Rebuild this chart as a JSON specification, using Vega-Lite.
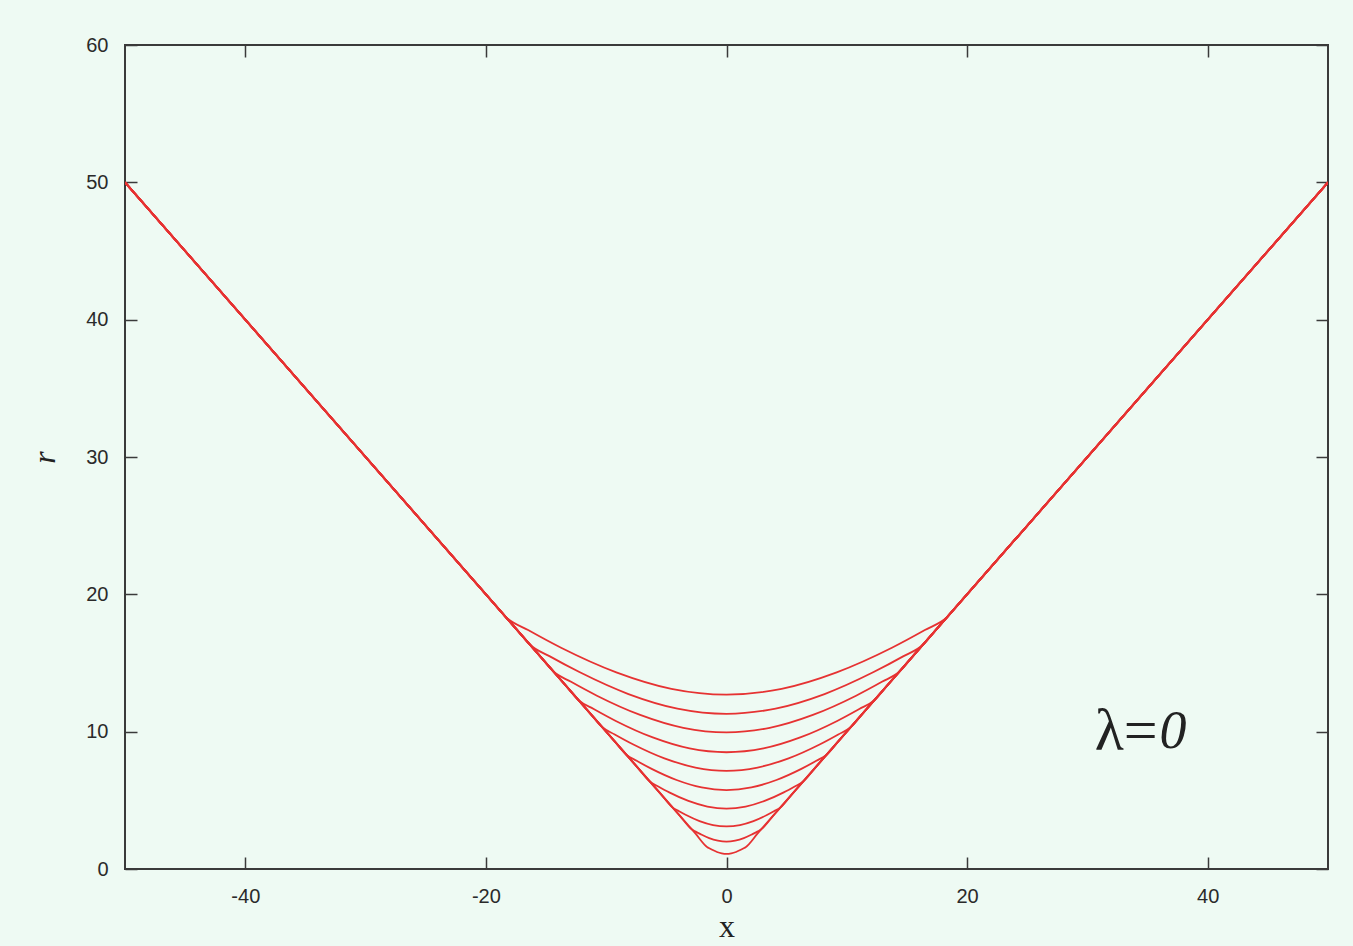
{
  "$schema": "https://vega.github.io/schema/vega-lite/v6.json",
  "width": 1203,
  "height": 824,
  "autosize": {"type": "none"},
  "padding": {"left": 125, "top": 45, "right": 25, "bottom": 77},
  "background": "#eefaf3",
  "config": {
    "view": {"stroke": "#3a3a3a", "strokeWidth": 2},
    "axis": {
      "domain": false,
      "grid": false,
      "tickSize": -12,
      "tickColor": "#3a3a3a",
      "tickWidth": 1.5,
      "labelFont": "Liberation Sans",
      "labelFontSize": 20,
      "labelColor": "#2a2a2a",
      "labelExpr": "toString(datum.value)",
      "titleFont": "Liberation Serif",
      "titleFontStyle": "italic",
      "titleFontWeight": "normal",
      "titleFontSize": 32,
      "titleColor": "#222222"
    }
  },
  "datasets": {
    "curves": [
      {"k": 1, "x": -50, "y": 50}, {"k": 1, "x": -19.33, "y": 19.33}, {"k": 1, "x": -18.33, "y": 18.33}, {"k": 1, "x": -16.49, "y": 17.4}, {"k": 1, "x": -13.75, "y": 16.11}, {"k": 1, "x": -9.16, "y": 14.32}, {"k": 1, "x": -4.58, "y": 13.12}, {"k": 1, "x": 0, "y": 12.7}, {"k": 1, "x": 4.58, "y": 13.12}, {"k": 1, "x": 9.16, "y": 14.32}, {"k": 1, "x": 13.75, "y": 16.11}, {"k": 1, "x": 16.49, "y": 17.4}, {"k": 1, "x": 18.33, "y": 18.33}, {"k": 1, "x": 19.33, "y": 19.33}, {"k": 1, "x": 50, "y": 50},
      {"k": 2, "x": -50, "y": 50}, {"k": 2, "x": -17.31, "y": 17.31}, {"k": 2, "x": -16.31, "y": 16.31}, {"k": 2, "x": -14.68, "y": 15.48}, {"k": 2, "x": -12.23, "y": 14.34}, {"k": 2, "x": -8.15, "y": 12.74}, {"k": 2, "x": -4.08, "y": 11.68}, {"k": 2, "x": 0, "y": 11.3}, {"k": 2, "x": 4.08, "y": 11.68}, {"k": 2, "x": 8.15, "y": 12.74}, {"k": 2, "x": 12.23, "y": 14.34}, {"k": 2, "x": 14.68, "y": 15.48}, {"k": 2, "x": 16.31, "y": 16.31}, {"k": 2, "x": 17.31, "y": 17.31}, {"k": 2, "x": 50, "y": 50},
      {"k": 3, "x": -50, "y": 50}, {"k": 3, "x": -15.36, "y": 15.36}, {"k": 3, "x": -14.36, "y": 14.36}, {"k": 3, "x": -12.92, "y": 13.63}, {"k": 3, "x": -10.77, "y": 12.62}, {"k": 3, "x": -7.18, "y": 11.22}, {"k": 3, "x": -3.59, "y": 10.28}, {"k": 3, "x": 0, "y": 9.95}, {"k": 3, "x": 3.59, "y": 10.28}, {"k": 3, "x": 7.18, "y": 11.22}, {"k": 3, "x": 10.77, "y": 12.62}, {"k": 3, "x": 12.92, "y": 13.63}, {"k": 3, "x": 14.36, "y": 14.36}, {"k": 3, "x": 15.36, "y": 15.36}, {"k": 3, "x": 50, "y": 50},
      {"k": 4, "x": -50, "y": 50}, {"k": 4, "x": -13.27, "y": 13.27}, {"k": 4, "x": -12.27, "y": 12.27}, {"k": 4, "x": -11.04, "y": 11.65}, {"k": 4, "x": -9.2, "y": 10.78}, {"k": 4, "x": -6.13, "y": 9.58}, {"k": 4, "x": -3.07, "y": 8.78}, {"k": 4, "x": 0, "y": 8.5}, {"k": 4, "x": 3.07, "y": 8.78}, {"k": 4, "x": 6.13, "y": 9.58}, {"k": 4, "x": 9.2, "y": 10.78}, {"k": 4, "x": 11.04, "y": 11.65}, {"k": 4, "x": 12.27, "y": 12.27}, {"k": 4, "x": 13.27, "y": 13.27}, {"k": 4, "x": 50, "y": 50},
      {"k": 5, "x": -50, "y": 50}, {"k": 5, "x": -11.32, "y": 11.32}, {"k": 5, "x": -10.32, "y": 10.32}, {"k": 5, "x": -9.29, "y": 9.8}, {"k": 5, "x": -7.74, "y": 9.07}, {"k": 5, "x": -5.16, "y": 8.06}, {"k": 5, "x": -2.58, "y": 7.39}, {"k": 5, "x": 0, "y": 7.15}, {"k": 5, "x": 2.58, "y": 7.39}, {"k": 5, "x": 5.16, "y": 8.06}, {"k": 5, "x": 7.74, "y": 9.07}, {"k": 5, "x": 9.29, "y": 9.8}, {"k": 5, "x": 10.32, "y": 10.32}, {"k": 5, "x": 11.32, "y": 11.32}, {"k": 5, "x": 50, "y": 50},
      {"k": 6, "x": -50, "y": 50}, {"k": 6, "x": -9.3, "y": 9.3}, {"k": 6, "x": -8.3, "y": 8.3}, {"k": 6, "x": -7.47, "y": 7.88}, {"k": 6, "x": -6.22, "y": 7.29}, {"k": 6, "x": -4.15, "y": 6.48}, {"k": 6, "x": -2.07, "y": 5.94}, {"k": 6, "x": 0, "y": 5.75}, {"k": 6, "x": 2.07, "y": 5.94}, {"k": 6, "x": 4.15, "y": 6.48}, {"k": 6, "x": 6.22, "y": 7.29}, {"k": 6, "x": 7.47, "y": 7.88}, {"k": 6, "x": 8.3, "y": 8.3}, {"k": 6, "x": 9.3, "y": 9.3}, {"k": 6, "x": 50, "y": 50},
      {"k": 7, "x": -50, "y": 50}, {"k": 7, "x": -7.35, "y": 7.35}, {"k": 7, "x": -6.35, "y": 6.35}, {"k": 7, "x": -5.71, "y": 6.03}, {"k": 7, "x": -4.76, "y": 5.58}, {"k": 7, "x": -3.17, "y": 4.96}, {"k": 7, "x": -1.59, "y": 4.55}, {"k": 7, "x": 0, "y": 4.4}, {"k": 7, "x": 1.59, "y": 4.55}, {"k": 7, "x": 3.17, "y": 4.96}, {"k": 7, "x": 4.76, "y": 5.58}, {"k": 7, "x": 5.71, "y": 6.03}, {"k": 7, "x": 6.35, "y": 6.35}, {"k": 7, "x": 7.35, "y": 7.35}, {"k": 7, "x": 50, "y": 50},
      {"k": 8, "x": -50, "y": 50}, {"k": 8, "x": -5.47, "y": 5.47}, {"k": 8, "x": -4.47, "y": 4.47}, {"k": 8, "x": -4.03, "y": 4.25}, {"k": 8, "x": -3.36, "y": 3.93}, {"k": 8, "x": -2.24, "y": 3.49}, {"k": 8, "x": -1.12, "y": 3.2}, {"k": 8, "x": 0, "y": 3.1}, {"k": 8, "x": 1.12, "y": 3.2}, {"k": 8, "x": 2.24, "y": 3.49}, {"k": 8, "x": 3.36, "y": 3.93}, {"k": 8, "x": 4.03, "y": 4.25}, {"k": 8, "x": 4.47, "y": 4.47}, {"k": 8, "x": 5.47, "y": 5.47}, {"k": 8, "x": 50, "y": 50},
      {"k": 9, "x": -50, "y": 50}, {"k": 9, "x": -3.89, "y": 3.89}, {"k": 9, "x": -2.89, "y": 2.89}, {"k": 9, "x": -2.6, "y": 2.74}, {"k": 9, "x": -2.16, "y": 2.54}, {"k": 9, "x": -1.44, "y": 2.25}, {"k": 9, "x": -0.72, "y": 2.07}, {"k": 9, "x": 0, "y": 2.0}, {"k": 9, "x": 0.72, "y": 2.07}, {"k": 9, "x": 1.44, "y": 2.25}, {"k": 9, "x": 2.16, "y": 2.54}, {"k": 9, "x": 2.6, "y": 2.74}, {"k": 9, "x": 2.89, "y": 2.89}, {"k": 9, "x": 3.89, "y": 3.89}, {"k": 9, "x": 50, "y": 50},
      {"k": 10, "x": -50, "y": 50}, {"k": 10, "x": -2.59, "y": 2.59}, {"k": 10, "x": -1.59, "y": 1.59}, {"k": 10, "x": -1.43, "y": 1.51}, {"k": 10, "x": -1.19, "y": 1.4}, {"k": 10, "x": -0.79, "y": 1.24}, {"k": 10, "x": -0.4, "y": 1.14}, {"k": 10, "x": 0, "y": 1.1}, {"k": 10, "x": 0.4, "y": 1.14}, {"k": 10, "x": 0.79, "y": 1.24}, {"k": 10, "x": 1.19, "y": 1.4}, {"k": 10, "x": 1.43, "y": 1.51}, {"k": 10, "x": 1.59, "y": 1.59}, {"k": 10, "x": 2.59, "y": 2.59}, {"k": 10, "x": 50, "y": 50}
    ],
    "notes": [
      {"x": 36.0, "y": 9.98, "label": "λ=", "part": "head"},
      {"x": 36.0, "y": 9.98, "label": "0", "part": "value"}
    ]
  },
  "layer": [
    {
      "data": {"name": "curves"},
      "mark": {"type": "line", "interpolate": "monotone", "color": "#e63232", "strokeWidth": 1.8, "clip": true},
      "encoding": {
        "x": {
          "field": "x", "type": "quantitative",
          "scale": {"domain": [-50, 50], "nice": false, "zero": false},
          "axis": {"orient": "bottom", "title": "x", "titleFontStyle": "normal", "values": [-40, -20, 0, 20, 40], "labelPadding": 29, "titlePadding": 5}
        },
        "y": {
          "field": "y", "type": "quantitative",
          "scale": {"domain": [0, 60], "nice": false},
          "axis": {"orient": "left", "title": "r", "values": [0, 10, 20, 30, 40, 50, 60], "labelPadding": 29, "titlePadding": 24}
        },
        "detail": {"field": "k", "type": "nominal"}
      }
    },
    {
      "data": {"name": "notes"},
      "transform": [{"filter": "datum.part === 'head'"}],
      "mark": {"type": "text", "font": "Liberation Serif", "fontSize": 60, "align": "right", "baseline": "middle", "dx": -2, "color": "#222222"},
      "encoding": {
        "x": {"field": "x", "type": "quantitative", "axis": null},
        "y": {"field": "y", "type": "quantitative", "axis": null},
        "text": {"field": "label"}
      }
    },
    {
      "data": {"name": "notes"},
      "transform": [{"filter": "datum.part === 'value'"}],
      "mark": {"type": "text", "font": "Liberation Serif", "fontSize": 54, "fontStyle": "italic", "align": "left", "baseline": "middle", "color": "#222222"},
      "encoding": {
        "x": {
          "field": "x", "type": "quantitative",
          "axis": {"orient": "top", "title": null, "labels": false, "values": [-40, -20, 0, 20, 40]}
        },
        "y": {
          "field": "y", "type": "quantitative",
          "axis": {"orient": "right", "title": null, "labels": false, "values": [0, 10, 20, 30, 40, 50, 60]}
        },
        "text": {"field": "label"}
      }
    }
  ],
  "resolve": {"axis": {"x": "independent", "y": "independent"}}
}
